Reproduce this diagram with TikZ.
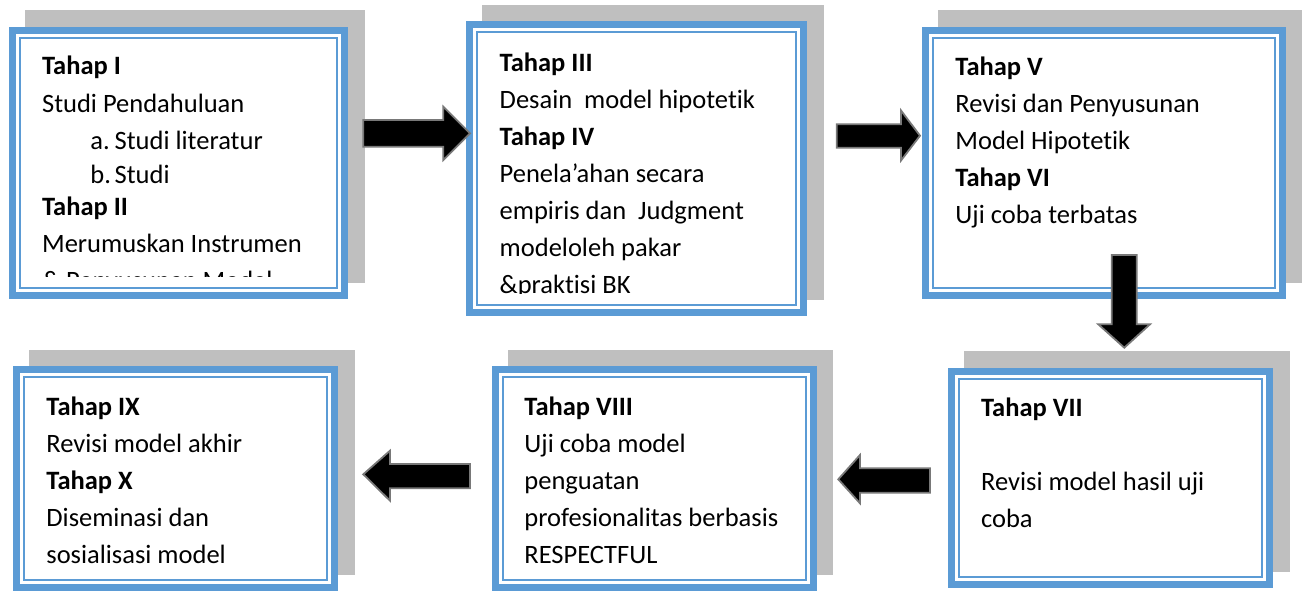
\documentclass[tikz,border=0pt]{standalone}
\usepackage{fontspec}
\setmainfont[Ligatures={NoCommon}]{Carlito}
\definecolor{bblue}{RGB}{91,155,213}
\definecolor{sgray}{RGB}{191,191,191}
\definecolor{agray}{RGB}{120,120,120}
% #1 name, #2 x1, #3 y1, #4 x2, #5 y2 (outer blue border, pixel units)
\newcommand\stagebox[5]{%
  \fill[sgray] (#2+16,#3-16.3) rectangle (#4+16.5,#5-16.3);
  \fill[bblue] (#2,#3) rectangle (#4,#5);
  \fill[white] (#2+7,#3+7) rectangle (#4-7,#5-7);
  \draw[bblue, line width=1.1pt] (#2+11,#3+11) rectangle (#4-11,#5-11);
  \coordinate (#1nw) at (#2+12.2,#3+12.2);
  \coordinate (#1se) at (#4-12.2,#5-12.2);
}
\begin{document}
\begin{tikzpicture}[x=0.5pt,y=-0.5pt,
  txt/.style={anchor=north west, inner sep=0pt, align=left,
    font=\fontsize{13.25}{18.5}\selectfont},
  blockarrow/.style={fill=black, draw=agray, line width=0.9pt, line join=miter},
]
\useasboundingbox (0,0) rectangle (1303,593);

% boxes
\stagebox{b1}{9.3}{26.7}{348.3}{299}
\stagebox{b2}{466}{21}{807.3}{316}
\stagebox{b3}{921.7}{26.7}{1285.7}{299}
\stagebox{b7}{948.3}{367.7}{1273.3}{588.3}
\stagebox{b8}{491.7}{366}{816.7}{591}
\stagebox{b9}{13.3}{366}{338.3}{591}

% text areas (the text is cut at the bottom of the text area)
\coordinate (c1) at (336,276.5);
\coordinate (c2) at (795,293.5);

% texts
\begin{scope}
\clip (b1nw) rectangle (c1);
\node[txt] (t1) at (41.7,50) {\rule{0pt}{12pt}\textbf{Tahap I}\\[0.5pt]
Studi Pendahuluan\\
\hspace*{24.15pt}\makebox[12.15pt][l]{a.}Studi literatur\\[-1.5pt]
\hspace*{24.15pt}\makebox[12.15pt][l]{b.}Studi\\[-2.5pt]
\textbf{Tahap II}\\
Merumuskan Instrumen\\
\& Penyusunan Model};
\end{scope}

\begin{scope}
\clip (b2nw) rectangle (c2);
\node[txt] (t2) at (499.3,46.7) {\rule{0pt}{12pt}\textbf{Tahap III}\\
Desain\ \ model hipotetik\\
\textbf{Tahap IV}\\
Penela’ahan secara\\
empiris dan\ \ Judgment\\
modeloleh pakar\\
\&praktisi BK};
\end{scope}

\begin{scope}
\clip (b3nw) rectangle (b3se);
\node[txt] (t3) at (955,51) {\rule{0pt}{12pt}\textbf{Tahap V}\\
Revisi dan Penyusunan\\
Model Hipotetik\\
\textbf{Tahap VI}\\
Uji coba terbatas};
\end{scope}

\node[txt] (t7) at (980.7,392) {\rule{0pt}{12pt}\textbf{Tahap VII}\\[18.8pt]
Revisi model hasil uji\\
coba};

\node[txt] (t8) at (524,391) {\rule{0pt}{12pt}\textbf{Tahap VIII}\\
Uji coba model\\
penguatan\\
profesionalitas berbasis\\
RESPECTFUL};

\node[txt] (t9) at (46,391) {\rule{0pt}{12pt}\textbf{Tahap IX}\\
Revisi model akhir\\
\textbf{Tahap X}\\
Diseminasi dan\\
sosialisasi model};

% block arrows
\draw[blockarrow] (363.3,120) -- (443.3,120) -- (443.3,106.7) -- (470,133.3)
  -- (443.3,160) -- (443.3,146.7) -- (363.3,146.7) -- cycle;
\draw[blockarrow] (836.7,124.3) -- (901,124.3) -- (901,110.5) -- (920,135.7)
  -- (901,160.5) -- (901,147.7) -- (836.7,147.7) -- cycle;
\draw[blockarrow] (1111.7,255) -- (1136.7,255) -- (1136.7,324.3) -- (1150,324.3)
  -- (1124.3,347.7) -- (1098.3,324.3) -- (1111.7,324.3) -- cycle;
\draw[blockarrow] (930,468.3) -- (860,468.3) -- (860,455) -- (838.3,479.3)
  -- (860,503.3) -- (860,492.7) -- (930,492.7) -- cycle;
\draw[blockarrow] (470,464) -- (390,464) -- (390,450.7) -- (363.3,474.3)
  -- (390,500.7) -- (390,488.3) -- (470,488.3) -- cycle;
\end{tikzpicture}
\end{document}
